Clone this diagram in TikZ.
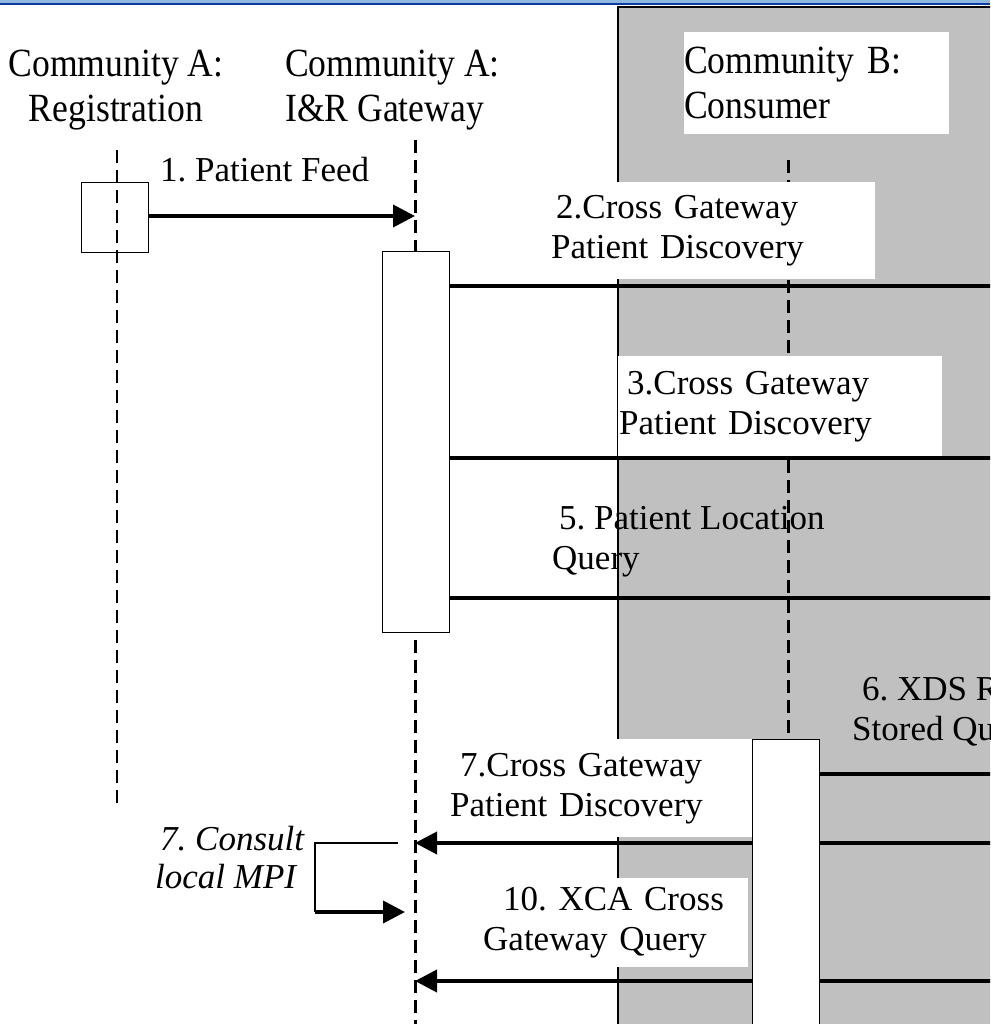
\documentclass[tikz,border=0pt]{standalone}
\usepackage{fontspec}
\setmainfont{Liberation Serif}
\newfontfamily\hdrfont{Liberation Serif}[FakeStretch=0.89]
\usetikzlibrary{arrows.meta,positioning}
\definecolor{shade}{HTML}{C0C0C0}
\definecolor{bandtop}{HTML}{8DB8E2}
\definecolor{banddark}{HTML}{0B3C9C}
\frenchspacing
\tikzset{
  actbox/.style={rectangle, draw=black, fill=white, line width=1.3pt, inner sep=0pt,
                 minimum width=67pt, anchor=north west},
  lifeline/.style={draw=black, line width=3pt, dash pattern=on 13pt off 7pt},
  lbl/.style={inner sep=0pt, align=left, font=\fontsize{35}{40}\selectfont},
  hdr/.style={lbl, font=\hdrfont\fontsize{40}{45}\selectfont},
  tag/.style={lbl, fill=white, anchor=north west},
  call/.style={-{Triangle[length=22pt, width=22pt]}, draw=black, line width=3.8pt},
  wire/.style={draw=black, line width=3.8pt},
  hairline/.style={draw=black, line width=1.3pt}
}

\begin{document}
\begin{tikzpicture}[x=1pt, y=-1pt]
 \useasboundingbox (0,0) rectangle (990,1024);
 \clip (0,0) rectangle (990,1024);
 \fill[bandtop] (0,0) rectangle (990,3);
 \fill[banddark] (0,3) rectangle (990,5.5);
 \filldraw[fill=shade, draw=black, line width=1.5pt] (618,7) rectangle (1010,1040);

 \node[hdr, align=center, anchor=base] (hreg) at (116,122) {Community A:\\Registration};
 \node[hdr, anchor=base west] (hgw) at (285,122) {Community A:\\I\&R Gateway};
 \node[tag, hdr, text width=265pt, minimum height=102pt] (hcons) at (684,32) {Community B:\\Consumer};

 \coordinate (regtop) at (117,150);
 \coordinate (regend) at (117,805);
 \coordinate (gwtop) at (415,140);
 \coordinate (gwend) at (415,1030);
 \coordinate (constop) at (788,160);
 \coordinate (consend) at (788,740);
 \draw[lifeline] (gwtop) -- (gwend);
 \draw[lifeline] (constop) -- (consend);

 \node[actbox, minimum height=70pt] (regbox) at (81,182) {};
 \node[actbox, minimum height=381pt] (gwbox) at (382,251) {};

 \coordinate (m1) at (415,216);
 \coordinate (r2) at (995,286);
 \coordinate (r3) at (995,458);
 \coordinate (r5) at (995,598);
 \coordinate (r6) at (995,774);
 \coordinate (r7) at (995,843);
 \coordinate (g7) at (415,843);
 \coordinate (r10) at (995,981);
 \coordinate (g10) at (415,981);
 \coordinate (s1) at (398,843);
 \coordinate (s2) at (315,843);
 \coordinate (s3) at (315,912);
 \coordinate (g9) at (405,912);

 \draw[call] (regbox.east |- m1) -- (m1);
 \draw[wire] (gwbox.east |- r2) -- (r2);
 \draw[wire] (gwbox.east |- r3) -- (r3);
 \draw[wire] (gwbox.east |- r5) -- (r5);
 \draw[wire] (788,774) -- (r6);
 \draw[call] (r7) -- (g7);
 \draw[call] (r10) -- (g10);
 \draw[hairline] (s1) -- (s2) -- (s3);
 \draw[call] (s3) -- (g9);

 \node[actbox, minimum height=320pt] (consbox) at (752,739) {};
 \draw[lifeline, line width=2.6pt] (regtop) -- (regend);

 \node[lbl, anchor=base west] (l1) at (160,182) {1. Patient Feed};
 \node[tag, text width=375pt, minimum height=97pt] (l2) at (500,182)
   {\hspace*{56pt}2.Cross Gateway\\\hspace*{51pt}Patient Discovery};
 \node[tag, text width=324pt, minimum height=100pt] (l3) at (618,356)
   {\hspace*{9pt}3.Cross Gateway\\\hspace*{1pt}Patient Discovery};
 \node[lbl, anchor=base west] (l5) at (552,569) {\hspace*{7pt}5. Patient Location\\Query};
 \node[lbl, anchor=base west] (l6) at (852,740) {\hspace*{10pt}6. XDS Registry\\Stored Query};
 \node[tag, text width=312pt, minimum height=98pt] (l7) at (440,739)
   {\hspace*{20pt}7.Cross Gateway\\\hspace*{10pt}Patient Discovery};
 \node[lbl, anchor=base west, font=\fontsize{35}{38}\selectfont\itshape] (l8) at (155,888)
   {\hspace*{5pt}7. Consult\\local MPI};
 \node[tag, text width=288pt, minimum height=89pt] (l10) at (460,878)
   {\hspace*{43pt}10. XCA Cross\\\hspace*{23pt}Gateway Query};
\end{tikzpicture}
\end{document}
